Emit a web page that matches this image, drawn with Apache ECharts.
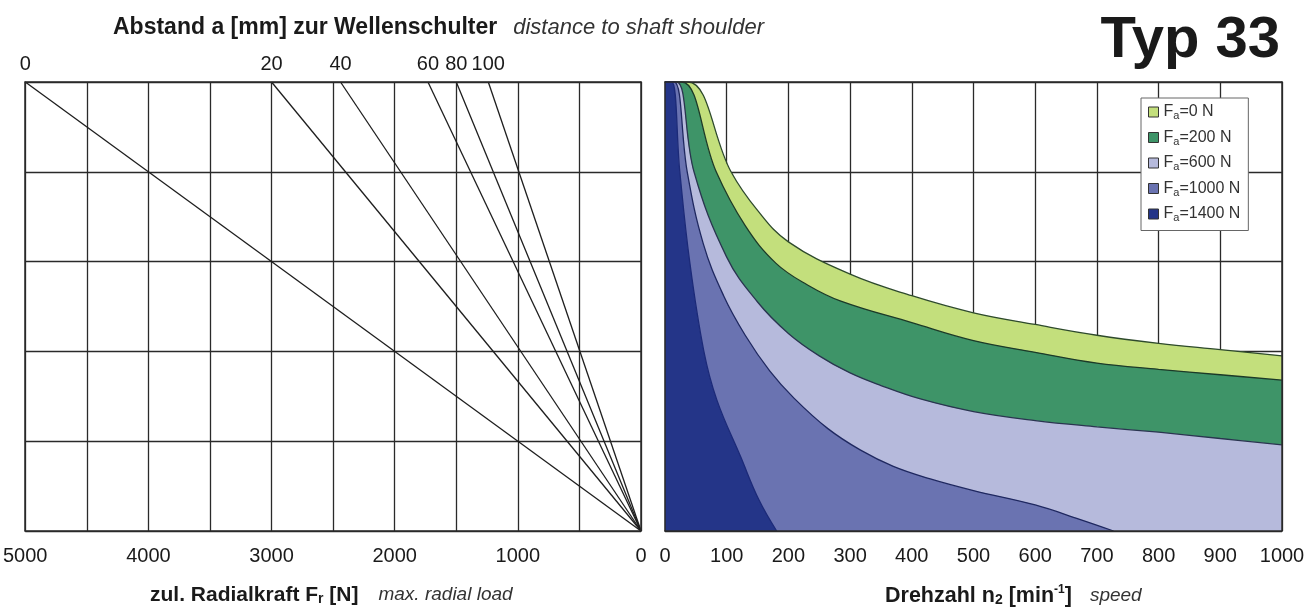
<!DOCTYPE html>
<html><head><meta charset="utf-8">
<script src="https://cdn.jsdelivr.net/npm/echarts@6/dist/echarts.min.js"></script>
<style>html,body{margin:0;padding:0;background:#fff}#c{width:1309px;height:610px}</style>
</head><body><div id="c"></div>
<script>
// ---- data ----
const distanceLabels = ['0', '20', '40', '60', '80', '100'];          // a [mm]
const loadAtTop      = [5000, 3000, 2440, 1730, 1500, 1240];          // Fr [N] where each a-line meets the top
const faNames = ['Fa=0 N', 'Fa=200 N', 'Fa=600 N', 'Fa=1000 N', 'Fa=1400 N'];
// [speed n2, chart unit] boundary curves
const curveFa0    = [[0,5],[37,5],[107,4.0],[150,3.57],[200,3.22],[300,2.86],[400,2.62],[500,2.43],[600,2.30],[700,2.18],[800,2.09],[900,2.02],[1000,1.95]];
const curveFa200  = [[0,5],[27,5],[83,4.0],[130,3.4],[180,2.98],[231,2.74],[285,2.56],[400,2.32],[500,2.12],[600,1.99],[700,1.87],[800,1.80],[900,1.74],[1000,1.68]];
const curveFa600  = [[0,5],[19,5],[47,4.0],[100,3.05],[150,2.55],[200,2.2],[250,1.95],[300,1.76],[350,1.62],[414,1.47],[500,1.33],[600,1.23],[700,1.16],[800,1.10],[900,1.03],[1000,0.96]];
const curveFa1000 = [[0,5],[15,5],[36,4.0],[62,3.2],[95,2.62],[130,2.18],[170,1.78],[209,1.48],[264,1.14],[317,0.90],[370,0.72],[430,0.58],[500,0.45],[600,0.29],[672,0.13],[727,0]];
const curveFa1400 = [[0,5],[11,5],[24,4.0],[40,3.0],[63,2.0],[84,1.46],[123,0.82],[152,0.35],[181,0]];
const curves = [curveFa0, curveFa200, curveFa600, curveFa1000, curveFa1400];

// ---- styles ----
const FONT = '"Liberation Sans", Arial, Helvetica, sans-serif';
const fills = ['#c3df7c', '#3e9468', '#b6badc', '#6a73b1', '#243588'];
const edges = ['#2e4a2c', '#1c3a28', '#2a3550', '#1f2860', '#1c2a78'];
const lineC = '#2a2a2a';
const lbl = {fontFamily: FONT, fontSize: 20, color: '#1a1a1a'};

const chart = echarts.init(document.getElementById('c'), null, {renderer: 'canvas'});

const grids = [
  {left: 24, top: 82, width: 617, height: 449},
  {left: 665, top: 82, width: 617, height: 449}
];

function borderAxis(gridIndex, position, extra) {
  return Object.assign({
    gridIndex, position, type: 'value', z: 5,
    axisLine: {show: true, onZero: false, lineStyle: {color: lineC, width: 1.5}},
    axisTick: {show: false}, splitLine: {show: false}, axisLabel: {show: false}
  }, extra);
}
function gridAxis(gridIndex, position, extra) {
  return Object.assign({
    gridIndex, position, type: 'value', z: 0,
    axisLine: {show: false}, axisTick: {show: false}, axisLabel: {show: false},
    splitLine: {show: true, lineStyle: {color: lineC, width: 1.3}}
  }, extra);
}
const loadRange = {min: 0, max: 5000, interval: 500, inverse: true};
const speedRange = {min: 0, max: 1000, interval: 100};
const yRange = {min: 0, max: 5, interval: 1};

const xAxis = [
  borderAxis(0, 'bottom', Object.assign({}, loadRange, {axisLabel: Object.assign({show: true, margin: 15,
    formatter: v => (v % 1000 === 0 ? String(v) : '')}, lbl)})),
  borderAxis(0, 'top', Object.assign({}, loadRange, {axisLabel: Object.assign({show: true, margin: 8,
    customValues: loadAtTop, formatter: v => distanceLabels[loadAtTop.indexOf(v)]}, lbl)})),
  gridAxis(0, 'bottom', loadRange),
  borderAxis(1, 'bottom', Object.assign({}, speedRange, {axisLabel: Object.assign({show: true, margin: 15,
    formatter: v => String(v)}, lbl)})),
  borderAxis(1, 'top', speedRange),
  gridAxis(1, 'bottom', speedRange)
];
const yAxis = [
  borderAxis(0, 'left', yRange), borderAxis(0, 'right', yRange), gridAxis(0, 'left', yRange),
  borderAxis(1, 'left', yRange), borderAxis(1, 'right', yRange), gridAxis(1, 'left', yRange)
];

const series = [];
loadAtTop.forEach((f, i) => {
  series.push({
    type: 'line', xAxisIndex: 2, yAxisIndex: 2, silent: true, z: 3,
    symbol: 'none', data: [[f, 5], [0, 0]],
    lineStyle: {color: '#1e1e1e', width: 1.3}
  });
});
curves.forEach((c, i) => {
  series.push({
    name: faNames[i], type: 'line', xAxisIndex: 5, yAxisIndex: 5, silent: true, z: 2 + i * 0.1,
    symbol: 'none', smooth: 0.4, data: c,
    itemStyle: {color: fills[i]},
    lineStyle: {color: edges[i], width: 1.3},
    areaStyle: {color: fills[i], opacity: 1}
  });
});

const bold = (size) => ({fontFamily: FONT, fontSize: size, fontWeight: 'bold', color: '#1a1a1a'});
const ital = (size, padLeft) => ({fontFamily: FONT, fontSize: size, fontStyle: 'italic', fontWeight: 'normal', color: '#333', padding: [0, 0, 0, padLeft]});

chart.setOption({
  animation: false,
  backgroundColor: '#fff',
  grid: grids,
  xAxis, yAxis, series,
  title: [
    {text: '{b|Abstand a [mm] zur Wellenschulter}{i|distance to shaft shoulder}', left: 113, top: 16, padding: 0,
     textStyle: {rich: {b: bold(23), i: ital(22, 16)}}},
    {text: 'Typ 33', right: 29, top: 12, padding: 0,
     textStyle: {fontFamily: FONT, fontSize: 58, fontWeight: 'bold', color: '#1a1a1a'}},
    {text: '{b|zul. Radialkraft F}{sub|r}{b| [N]}{i|max. radial load}', left: 150, top: 584, padding: 0,
     textStyle: {rich: {b: bold(21), sub: Object.assign(bold(14), {padding: [8, 0, 0, 0]}), i: ital(19, 20)}}},
    {text: '{b|Drehzahl n}{sub|2}{b| [min}{sup|-1}{b|]}{i|speed}', left: 885, top: 584, padding: 0,
     textStyle: {rich: {b: bold(21.5), sub: Object.assign(bold(14), {padding: [8, 0, 0, 0]}),
       sup: Object.assign(bold(12), {padding: [0, 0, 12, 0]}), i: ital(19, 18)}}}
  ],
  legend: {
    data: faNames, orient: 'vertical', left: 1141, top: 98, padding: [6, 8, 7, 7],
    itemGap: 8, itemWidth: 10, itemHeight: 10, icon: 'rect', selectedMode: false,
    backgroundColor: '#fff', borderColor: '#666', borderWidth: 1,
    itemStyle: {borderColor: '#333', borderWidth: 1},
    formatter: n => '{f|F}{s|a}{t|' + n.slice(2) + '}',
    textStyle: {color: '#333', fontFamily: FONT, fontSize: 16,
      rich: {f: {fontFamily: FONT, fontSize: 16, color: '#333'},
             s: {fontFamily: FONT, fontSize: 11, color: '#333', padding: [8, 0, 0, 0]},
             t: {fontFamily: FONT, fontSize: 16, color: '#333'}}}
  }
});
</script></body></html>
